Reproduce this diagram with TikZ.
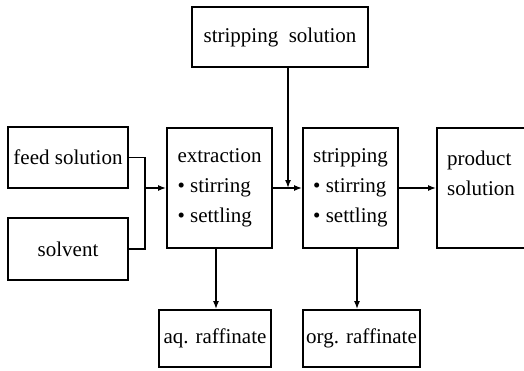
\documentclass[tikz,border=0pt]{standalone}
\usepackage{fontspec}
\setmainfont{Liberation Serif}
\usetikzlibrary{arrows.meta}
\begin{document}
\begin{tikzpicture}[x=1pt,y=-1pt,
  box/.style={draw, line width=1.8pt, inner sep=0pt, font=\fontsize{21}{30}\selectfont},
  lbl/.style={inner sep=0pt, align=left, font=\fontsize{21}{30}\selectfont},
  flow/.style={line width=1.5pt},
  arr/.style={flow, -{Latex[length=8pt,width=6pt]}}]
\useasboundingbox (0,0) rectangle (524,370);
\clip (0,0) rectangle (524,370);

% source boxes
\node[box, minimum width=120pt, minimum height=61pt] (feed) at (68,157.5) {feed solution};
\node[box, minimum width=120pt, minimum height=62pt] (solv) at (68,249) {solvent};
\node[box, minimum width=176pt, minimum height=60pt] (ss) at (280,37) {stripping\ \ solution};

% process stages
\node[box, minimum width=105pt, minimum height=120pt] (ext) at (219.5,188) {};
\node[lbl] at (ext) {extraction\\\textbullet\ stirring\\\textbullet\ settling};
\node[box, minimum width=95pt, minimum height=120pt] (strip) at (350.5,188) {};
\node[lbl] at (strip) {stripping\\\textbullet\ stirring\\\textbullet\ settling};
\node[box, minimum width=95pt, minimum height=120pt] (prod) at (484.5,188) {};
\node[lbl, anchor=west] at (447,173) {product\\solution};

% outputs
\node[box, minimum width=112pt, minimum height=57pt] (aq) at (215,338.5) {aq. raffinate};
\node[box, minimum width=117pt, minimum height=57pt] (org) at (361.5,338.5) {org. raffinate};

% junctions
\coordinate (j1) at (145,188);
\coordinate (j2) at (288,188);
\coordinate (c1) at (216,0);
\coordinate (c2) at (357,0);

% connectors
\draw[flow] (feed.east) -| (j1) |- (solv.east);
\draw[arr] (j1) -- (ext.west);
\draw[arr] (ext.east) -- (strip.west);
\draw[arr] (ss.south -| j2) -- (j2);
\draw[arr] (strip.east) -- (prod.west);
\draw[arr] (ext.south -| c1) -- (aq.north -| c1);
\draw[arr] (strip.south -| c2) -- (org.north -| c2);
\end{tikzpicture}
\end{document}
